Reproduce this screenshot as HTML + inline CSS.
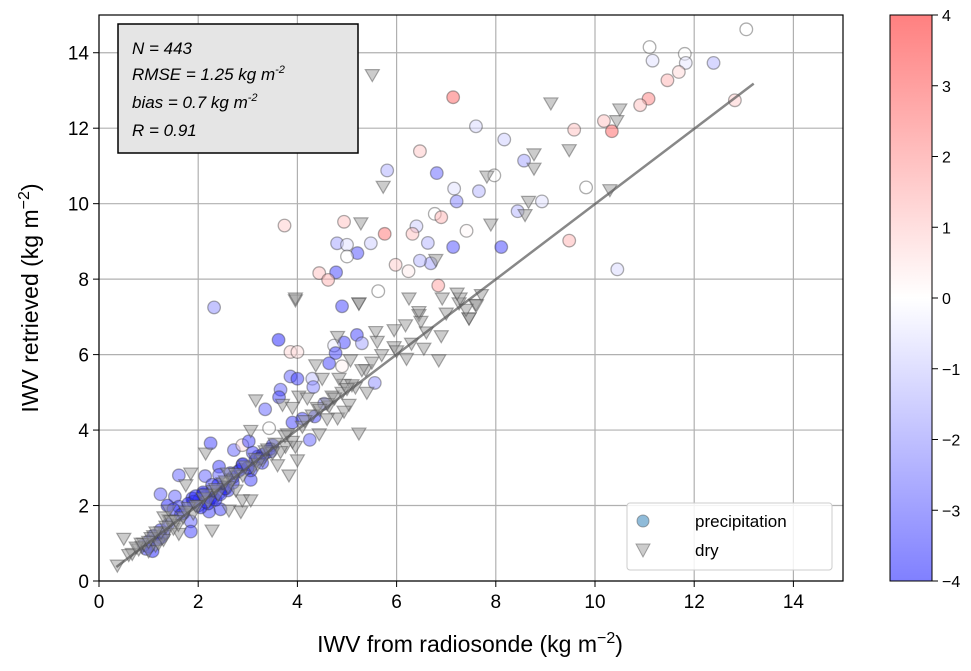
<!DOCTYPE html>
<html><head><meta charset="utf-8"><style>
html,body{margin:0;padding:0;background:#fff;}
svg{display:block;font-family:"Liberation Sans",sans-serif;}
</style></head><body>
<svg id="chart" width="971" height="671">
<defs>
<linearGradient id="cbg" x1="0" y1="1" x2="0" y2="0">
<stop offset="0" stop-color="rgb(128,128,255)"/><stop offset="0.5" stop-color="#fff"/><stop offset="1" stop-color="rgb(255,128,128)"/>
</linearGradient>
</defs>
<g id="grid"></g>
<g id="marks"></g>
<rect x="99" y="15" width="744" height="566" fill="none" stroke="#000" stroke-width="1.2"/>
<g id="axes"></g>
<g>
<rect x="118" y="24" width="240" height="129" fill="#e5e5e5" stroke="#000" stroke-width="1.5"/>
<text x="132" y="54" font-size="17" font-style="italic">N = 443</text>
<text x="132" y="80" font-size="17" font-style="italic">RMSE = 1.25 kg m<tspan dy="-7" font-size="11">-2</tspan></text>
<text x="132" y="108" font-size="17" font-style="italic">bias = 0.7 kg m<tspan dy="-7" font-size="11">-2</tspan></text>
<text x="132" y="136" font-size="17" font-style="italic">R = 0.91</text>
</g>
<g>
<rect x="627" y="503" width="205" height="67" rx="3" fill="#fff" fill-opacity="0.85" stroke="#ccc"/>
<circle cx="643" cy="521" r="6" fill="rgb(31,119,180)" fill-opacity="0.5" stroke="#555" stroke-opacity="0.5"/>
<text x="695" y="527" font-size="17">precipitation</text>
<path d="M636,544 L650,544 L643,557 Z" fill="#999" fill-opacity="0.5" stroke="#555" stroke-opacity="0.5"/>
<text x="695" y="556" font-size="17">dry</text>
</g>
<g>
<rect x="890" y="15" width="42" height="566" fill="url(#cbg)" stroke="#000" stroke-width="1"/>
<g id="cbticks"></g>
</g>
<text x="470" y="652" font-size="23" text-anchor="middle">IWV from radiosonde (kg m<tspan dy="-9" font-size="16">−2</tspan><tspan dy="9">)</tspan></text>
<text transform="translate(38,298) rotate(-90)" font-size="23" text-anchor="middle">IWV retrieved (kg m<tspan dy="-9" font-size="16">−2</tspan><tspan dy="9">)</tspan></text>
</svg>
<script>
const xTicks=[0,2,4,6,8,10,12,14];
const yTicks=[0,2,4,6,8,10,12,14];
const cbTicks=[4,3,2,1,0,-1,-2,-3,-4];
const fitX=[0.35,13.2];
const fitY=[0.37,13.18];
const precX=[13.05,11.1,11.16,11.81,11.83,12.39,11.69,11.46,11.08,10.91,10.18,10.34,12.82,9.58,7.6,8.17,8.57,7.97,7.66,9.82,8.93,8.44,7.41,8.11,9.48,10.45,
7.14,6.47,5.81,6.81,7.16,7.21,6.77,6.9,6.4,6.32,6.63,7.14,6.69,6.47,6.24,5.98,6.84,5.63,3.74,4.94,5.76,5.48,4.8,5.0,5.21,5.0,4.78,4.44,4.62,2.32,
4.9,3.62,3.86,4.0,4.94,5.2,5.3,4.74,4.77,4.64,4.9,3.86,4.0,4.3,3.66,3.63,4.32,4.54,4.35,5.56,3.35,3.43,4.25,2.25,2.72,2.89,3.02,3.36,3.46,1.61,2.14,2.42,2.42,2.89,3.06,1.24,1.53,1.61,1.88,2.02,2.15,2.28,2.42,2.22,2.45,1.85,1.85,1.24,1.0,1.08,1.38,2.28,2.65,3.06,3.29,
2.0,2.1,2.3,2.5,2.6,2.8,3.0,3.2,1.7,1.9,2.2,1.2,1.4,0.9,1.1,2.7,3.1,3.5,3.9,4.1,
1.0,1.15,1.3,1.5,1.65,1.8,1.95,2.05,2.15,2.25,2.35,2.45,2.55,2.7,2.85,3.0,3.15,3.3,3.45,0.95,1.25,2.1,2.4,2.9,3.25];
const precY=[14.62,14.15,13.79,13.97,13.73,13.73,13.49,13.27,12.78,12.61,12.19,11.92,12.74,11.96,12.05,11.7,11.14,10.75,10.33,10.43,10.06,9.8,9.28,8.85,9.02,8.26,
12.82,11.39,10.88,10.81,10.4,10.06,9.73,9.64,9.4,9.2,8.96,8.85,8.42,8.49,8.21,8.38,7.83,7.68,9.42,9.52,9.2,8.95,8.95,8.91,8.69,8.6,8.18,8.16,7.98,7.25,
7.28,6.39,6.07,6.07,6.32,6.52,6.3,6.24,6.04,5.77,5.69,5.42,5.36,5.36,5.07,4.87,5.14,4.7,4.36,5.25,4.55,4.05,3.74,3.65,3.47,3.6,3.7,3.39,3.43,2.8,2.78,3.03,2.81,3.08,2.68,2.3,2.24,1.97,2.19,2.15,2.24,2.37,2.33,1.84,1.9,1.58,1.31,1.35,0.91,0.79,2.0,2.55,2.86,2.93,3.13,
2.0,2.3,2.2,2.5,2.4,2.9,3.0,3.3,1.8,2.1,2.05,1.1,1.5,0.95,1.2,2.6,3.4,3.6,4.2,4.3,
1.05,1.1,1.25,1.9,1.75,2.05,2.25,1.95,2.1,2.2,2.15,2.3,2.45,2.75,2.95,3.0,3.2,3.35,3.5,0.85,1.15,2.35,2.55,3.1,3.25];
const precC=[0,0,-0.5,0,-0.4,-1.2,0.6,1.2,2,1,1,2.5,0.8,1,-0.6,-0.8,-1.5,0,-1.2,0,-0.5,-1.2,0.1,-3,1.2,-0.6,
2.5,0.9,-1.3,-2.5,-0.5,-2,0,1.2,-0.8,1,-1.2,-2.8,-1.5,-1.2,0.3,0.8,1.5,0,0.8,1,2.2,-0.8,-1.5,-0.5,-2.8,0,-3,1,1.2,-1.8,
-3,-3.5,0.6,0.5,-3,-3,-1.5,-0.3,-3,-3,0.2,-2.5,-3,-1,-2.5,-3,-2,-2,-3,-1.8,-2.5,0,-2.5,-3,-2.5,0.5,-3,-3,-3,-2.5,-2.5,-3,-2.5,-3,-3,-2.5,-2.5,-3,-3.5,-3,-3.5,-3,-3,-3,-3,-2.5,-3,-3,-3,-3.5,-3.5,-3,-3,-3,-3,-3,
-3.5,-3,-3.5,-3,-3,-3.5,-3,-3,-3,-3.5,-3,-3,-3,-3.5,-3.5,-3,-3,-3,-3,-3,
-3.5,-3.5,-3,-3,-3.5,-3.5,-3.5,-3,-3.5,-3.5,-3,-3.5,-3,-3.5,-3,-3.5,-3,-3.5,-3,-3.5,-3.5,-3.5,-3,-3.5,-3];
const dryX=[0.37,0.5,0.67,0.87,1.14,1.34,1.41,1.61,1.31,1.41,1.75,1.85,2.15,2.28,2.62,2.86,2.89,3.06,2.76,2.59,3.06,3.16,3.6,3.83,4.0,3.96,3.76,3.66,3.7,3.9,4.03,4.2,4.4,4.44,4.64,4.81,5.04,5.17,4.94,5.07,5.38,5.24,4.81,5.24,5.58,5.61,5.95,6.18,6.45,6.49,6.55,6.85,7.46,7.26,7.59,3.96,5.95,4.5,4.84,4.37,4.7,4.94,
9.11,10.5,10.44,8.77,8.77,9.48,7.82,8.66,8.59,7.9,10.3,7.71,7.61,7.46,7.28,5.51,5.73,5.28,3.96,5.24,6.25,6.45,6.92,7.22,6.79,
0.6,0.8,0.9,1.0,1.2,1.1,1.3,1.5,1.6,1.7,1.9,2.0,2.2,2.3,2.4,2.5,2.7,2.9,3.1,3.3,3.4,3.5,3.8,4.1,4.3,4.6,4.9,5.1,5.3,5.5,5.7,6.0,6.3,6.6,7.0,0.75,1.05,1.25,1.45,1.8,2.1,2.6,3.2,3.9,4.6,5.4,6.2,6.9,7.4,
0.85,1.0,1.15,1.35,1.55,1.75,1.95,2.15,2.35,2.55,2.75,2.95,3.15,3.35,3.55,3.75,4.15,4.45,4.75,5.0];
const dryY=[0.42,1.13,0.73,0.91,0.95,1.26,1.62,1.26,1.7,1.88,2.55,2.86,3.39,1.35,1.88,1.84,2.15,2.15,2.41,2.86,3.99,4.8,3.08,2.81,3.21,3.57,3.57,3.43,4.68,4.6,4.9,4.85,4.6,3.9,4.64,4.32,4.68,5.14,5.21,5.86,5.6,3.92,6.48,7.37,6.61,6.35,6.66,6.79,7.06,6.88,6.17,5.86,6.97,7.37,7.33,7.45,6.21,5.37,5.37,5.73,4.9,4.5,
12.67,12.51,12.2,11.32,10.94,11.43,10.73,10.06,9.71,9.46,10.37,7.59,7.32,6.97,7.5,13.42,10.46,9.49,7.5,7.36,7.5,7.14,7.5,7.63,8.52,
0.7,0.85,1.0,0.8,1.0,1.2,1.1,1.4,1.5,1.7,1.8,2.0,2.1,2.4,2.3,2.6,2.7,2.8,3.0,3.2,3.5,3.4,3.9,4.1,4.4,4.7,5.0,5.2,5.6,5.8,6.0,6.1,6.3,6.6,7.1,0.9,1.15,1.3,1.6,1.95,2.2,2.5,3.1,3.7,4.3,5.0,5.9,6.5,7.2,
1.0,1.05,1.3,1.45,1.6,1.85,2.0,2.3,2.45,2.65,2.85,3.05,3.25,3.45,3.65,3.85,4.25,4.55,4.85,5.1];

const NS='http://www.w3.org/2000/svg';
const X0=99,X1=843,Y0=581,Y1=15;
function sx(v){return X0+(v/15)*(X1-X0);}
function sy(v){return Y0-(v/15)*(Y0-Y1);}
function cy(v){return Y0-((v+4)/8)*(Y0-Y1);}
function mk(tag,attrs,parent){const e=document.createElementNS(NS,tag);for(const k in attrs)e.setAttribute(k,attrs[k]);parent.appendChild(e);return e;}
function bwr(c){const t=Math.max(-1,Math.min(1,c/4));let r,g,b;if(t<0){r=255*(1+t);g=255*(1+t);b=255;}else{r=255;g=255*(1-t);b=255*(1-t);}return `rgb(${r|0},${g|0},${b|0})`;}
const grid=document.getElementById('grid'),axes=document.getElementById('axes'),marks=document.getElementById('marks');
xTicks.forEach(v=>{
  const l=mk('line',{x1:sx(v),x2:sx(v),y1:Y1,y2:Y0,stroke:'#b0b0b0','stroke-width':1.2},grid);
  
  
  mk('line',{x1:sx(v),x2:sx(v),y1:Y0,y2:Y0+6,stroke:'#000'},axes);
  const t=mk('text',{x:sx(v),y:Y0+27,'font-size':19,'text-anchor':'middle'},axes);t.textContent=v;
  
  
});
yTicks.forEach(v=>{
  const l=mk('line',{x1:X0,x2:X1,y1:sy(v),y2:sy(v),stroke:'#b0b0b0','stroke-width':1.2},grid);
  
  
  mk('line',{x1:X0-6,x2:X0,y1:sy(v),y2:sy(v),stroke:'#000'},axes);
  const t=mk('text',{x:X0-10,y:sy(v)+7,'font-size':19,'text-anchor':'end'},axes);t.textContent=v;
  
  
});
const cbt=document.getElementById('cbticks');
cbTicks.forEach(v=>{
  mk('line',{x1:932,x2:938,y1:cy(v),y2:cy(v),stroke:'#000'},cbt);
  const t=mk('text',{x:942,y:cy(v)+6,'font-size':16},cbt);t.textContent=(v<0?'−'+(-v):v);
  
  
});
for(let i=0;i<precX.length;i++){
  const c=mk('circle',{cx:sx(precX[i]),cy:sy(precY[i]),r:6.3,fill:bwr(precC[i]),'fill-opacity':0.5,stroke:'#333','stroke-opacity':0.4,'stroke-width':1.3},marks);
  
  
}
for(let i=0;i<dryX.length;i++){
  const x=sx(dryX[i]),y=sy(dryY[i]);
  const p=mk('path',{d:`M${x-7},${y-5} L${x+7},${y-5} L${x},${y+7} Z`,fill:'#999','fill-opacity':0.5,stroke:'#444','stroke-opacity':0.45,'stroke-width':1.2},marks);
  
  
}
const fl=mk('line',{x1:sx(fitX[0]),y1:sy(fitY[0]),x2:sx(fitX[1]),y2:sy(fitY[1]),stroke:'#555','stroke-opacity':0.7,'stroke-width':2.5},marks);


</script>
</body></html>
